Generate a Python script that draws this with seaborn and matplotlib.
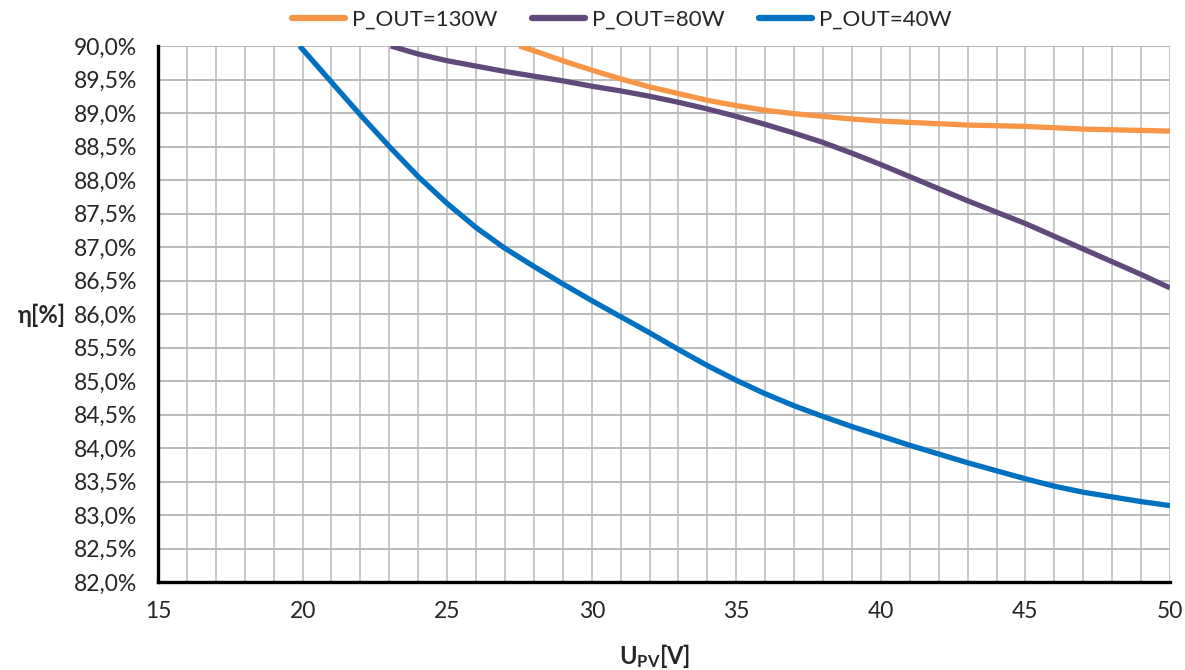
import matplotlib
matplotlib.use("Agg")
import matplotlib.pyplot as plt
from matplotlib.ticker import MultipleLocator, FuncFormatter
import pandas as pd
import seaborn as sns

# Efficiency versus PV input voltage for three output power levels
u_130 = [27.5, 28, 29, 30, 31, 32, 33, 34, 35, 36, 37, 38, 39, 40, 41, 42, 43, 44, 45, 46, 47, 48, 49, 50]
eta_130 = [90.00, 89.93, 89.78, 89.64, 89.51, 89.39, 89.29, 89.19, 89.11, 89.04, 88.99, 88.95, 88.91, 88.88,
           88.86, 88.84, 88.82, 88.81, 88.80, 88.78, 88.76, 88.75, 88.74, 88.73]

u_80 = [23.05, 24, 25, 26, 27, 28, 29, 30, 31, 32, 33, 34, 35, 36, 37, 38, 39, 40, 41, 42, 43, 44, 45, 46, 47, 48,
        49, 50]
eta_80 = [90.00, 89.88, 89.78, 89.70, 89.62, 89.55, 89.48, 89.40, 89.33, 89.25, 89.16, 89.06, 88.95, 88.83, 88.70,
          88.56, 88.40, 88.23, 88.05, 87.87, 87.69, 87.52, 87.35, 87.16, 86.97, 86.78, 86.59, 86.39]

u_40 = [19.9, 21, 22, 23, 24, 25, 26, 27, 28, 29, 30, 31, 32, 33, 34, 35, 36, 37, 38, 39, 40, 41, 42, 43, 44,
        45, 46, 47, 48, 49, 50]
eta_40 = [90.00, 89.46, 88.97, 88.50, 88.05, 87.65, 87.29, 86.98, 86.71, 86.45, 86.20, 85.96, 85.72, 85.47, 85.23,
          85.01, 84.81, 84.63, 84.47, 84.32, 84.18, 84.04, 83.91, 83.78, 83.66, 83.54, 83.43, 83.34, 83.27, 83.20,
          83.14]

series_names = ["P_OUT=130W", "P_OUT=80W", "P_OUT=40W"]
series_colors = ["#F79646", "#604A7B", "#0070C0"]

frames = []
for name, u, eta in zip(series_names, [u_130, u_80, u_40], [eta_130, eta_80, eta_40]):
    frames.append(pd.DataFrame({"U": u, "eta": eta, "P": name}))
df = pd.concat(frames, ignore_index=True)

sns.set_style("white")
plt.rcParams["font.family"] = ["Lato", "DejaVu Sans"]
plt.rcParams["mathtext.fontset"] = "custom"
plt.rcParams["mathtext.rm"] = "Lato"
plt.rcParams["mathtext.bf"] = "Lato:bold"

text_color = "#262626"

fig = plt.figure(figsize=(11.85, 6.70), dpi=100)
ax = fig.add_axes([158 / 1185, 1 - 582 / 670, (1170 - 158) / 1185, (582 - 46) / 670])

sns.lineplot(data=df, x="U", y="eta", hue="P", hue_order=series_names,
             palette=dict(zip(series_names, series_colors)), linewidth=3.8,
             sort=False, estimator=None, ax=ax, zorder=3)
for line in ax.get_lines():
    line.set_solid_joinstyle("round")
    line.set_solid_capstyle("butt")

ax.set_xlim(15, 50)
ax.set_ylim(82, 90)
ax.xaxis.set_major_locator(MultipleLocator(5))
ax.xaxis.set_minor_locator(MultipleLocator(1))
ax.yaxis.set_major_locator(MultipleLocator(0.5))
ax.yaxis.set_major_formatter(FuncFormatter(lambda v, _: f"{v:.1f}".replace(".", ",") + "%"))

ax.grid(True, which="both", axis="x", color="#c4c4c4", linewidth=1.3)
ax.grid(True, which="major", axis="y", color="#b4b4b4", linewidth=1.3)
ax.set_axisbelow(True)

for side in ["top", "right"]:
    ax.spines[side].set_visible(False)
for side in ["left", "bottom"]:
    ax.spines[side].set_color("black")
    ax.spines[side].set_linewidth(2.4)
    ax.spines[side].set_zorder(4)

ax.tick_params(axis="both", which="major", direction="out", length=6, width=2.4, color="black",
               labelsize=16.5, labelcolor=text_color)
ax.tick_params(axis="y", pad=9)
ax.tick_params(axis="x", pad=8)
ax.tick_params(axis="x", which="minor", length=0)

ax.set_xlabel(r"$\mathbf{U_{PV}[V]}$", fontsize=17, color=text_color, va="center")
ax.xaxis.set_label_coords((655 - 158) / (1170 - 158), -(656 - 582) / (582 - 46))
ax.set_ylabel("η[%]", fontsize=17, fontweight="bold", rotation=0, color=text_color,
              va="center", ha="center")
ax.yaxis.set_label_coords(-(158 - 42) / (1170 - 158), (582 - 315) / (582 - 46))

handles, labels = ax.get_legend_handles_labels()
for h in handles:
    h.set_linewidth(4.5)
    h.set_solid_capstyle("round")
ax.legend(handles, labels, loc="center left", bbox_to_anchor=(292 / 1185, 1 - 20 / 670),
          bbox_transform=fig.transFigure, ncol=3, frameon=False, fontsize=16,
          handlelength=2.4, handletextpad=0.3, columnspacing=1.55, borderpad=0, borderaxespad=0,
          labelcolor=text_color)

fig.savefig("out.png", dpi=100)
